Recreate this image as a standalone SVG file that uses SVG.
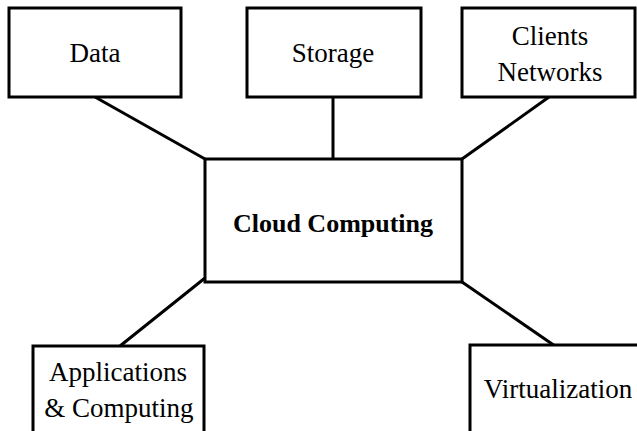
<svg xmlns="http://www.w3.org/2000/svg" width="637" height="431" viewBox="0 0 637 431">
<style>
.box{fill:#fff;stroke:#000;stroke-width:3}
.t{font-family:"Liberation Serif","Times New Roman",serif;font-size:27px;fill:#000;text-anchor:middle}
.b{font-weight:bold;font-size:26px}
.c{stroke:#000;stroke-width:3;fill:none}
</style>
<g id="connectors">
<line class="c" x1="95" y1="97" x2="205" y2="159"/>
<line class="c" x1="333" y1="97" x2="333" y2="159"/>
<line class="c" x1="549" y1="97" x2="462" y2="159"/>
<line class="c" x1="205" y1="278" x2="120" y2="346"/>
<line class="c" x1="462" y1="282" x2="555" y2="346"/>
</g>
<g id="data"><rect class="box" x="9" y="8" width="172" height="89"/><text class="t" x="95" y="62">Data</text></g>
<g id="storage"><rect class="box" x="247" y="8" width="174" height="89"/><text class="t" x="333" y="62">Storage</text></g>
<g id="clients"><rect class="box" x="462" y="8" width="173" height="89"/><text class="t" x="550" y="45">Clients</text><text class="t" x="550" y="81">Networks</text></g>
<g id="cloud"><rect class="box" x="205" y="159" width="257" height="123"/><text class="t b" x="333" y="232">Cloud Computing</text></g>
<g id="apps"><rect class="box" x="33" y="346" width="171" height="100"/><text class="t" x="118" y="381">Applications</text><text class="t" x="119" y="417">&amp; Computing</text></g>
<g id="virt"><rect class="box" x="470" y="345" width="180" height="100"/><text class="t" x="558" y="398">Virtualization</text></g>
</svg>
